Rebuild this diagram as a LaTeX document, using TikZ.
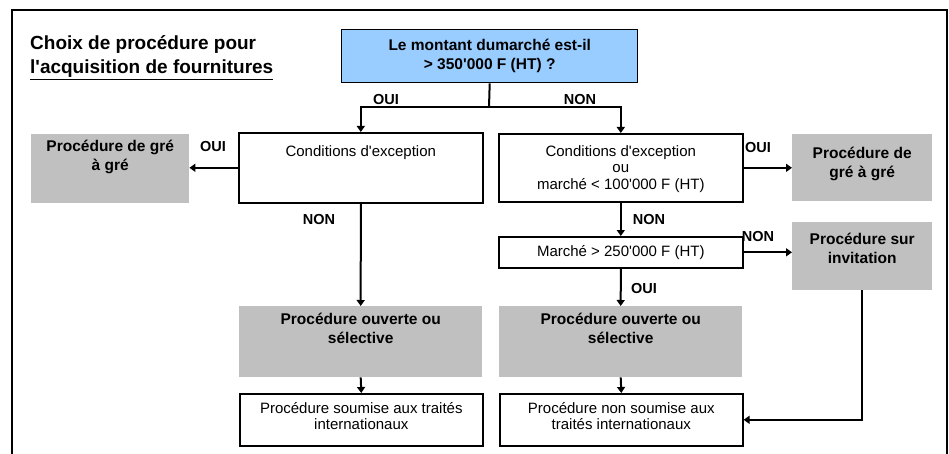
\documentclass[tikz,border=0pt]{standalone}
\usepackage{fontspec}
\setmainfont{Liberation Sans}[Ligatures=TeXOff]
\usetikzlibrary{arrows.meta}
\definecolor{askblue}{HTML}{99CCFF}
\definecolor{procgrey}{HTML}{C0C0C0}

\begin{document}
\begin{tikzpicture}[x=1pt,y=-1pt,
  font=\fontsize{15}{16}\selectfont,
  whitebox/.style={draw,line width=1.6pt,fill=white,anchor=north west,inner sep=0pt},
  greybox/.style={fill=procgrey,anchor=north west,inner sep=0pt},
  bluebox/.style={draw,line width=1.4pt,fill=askblue,anchor=north west,inner sep=0pt},
  txt/.style={align=center,inner sep=0pt,font=\fontsize{15}{16.5}\selectfont},
  bold/.style={align=center,inner sep=0pt,font=\fontsize{15.5}{19}\selectfont\bfseries},
  answer/.style={inner sep=0pt,font=\fontsize{14.5}{14.5}\selectfont\bfseries},
  arr/.style={line width=2pt,-{Triangle[length=6pt,width=8pt]}},
  line/.style={line width=2pt}]
\useasboundingbox (0,0) rectangle (949,454);
\draw[line width=1.6pt] (12,454) -- (12,10) -- (947,10) -- (947,454);

\node[anchor=west,align=left,inner sep=0pt,font=\fontsize{19}{24}\selectfont\bfseries] (title) at (30,58)
  {Choix de procédure pour\\\underline{l'acquisition de fournitures}};

\node[bluebox,minimum width=296pt,minimum height=53pt,
  label={[bold,below=10pt]north:Le montant dumarché est-il\\> 350'000 F (HT) ?}] (ask) at (341,29) {};

\node[whitebox,minimum width=244pt,minimum height=70pt,
  label={[txt,below=13pt]north:Conditions d'exception}] (exc1) at (238,132) {};
\node[greybox,minimum width=158pt,minimum height=69pt,
  label={[bold,below=6pt]north:Procédure de gré\\à gré}] (gre1) at (31,134) {};
\node[whitebox,minimum width=244pt,minimum height=68pt,
  label={[txt,below=12pt]north:Conditions d'exception\\ou\\marché < 100'000 F (HT)}] (exc2) at (498,133) {};
\node[greybox,minimum width=140pt,minimum height=67pt,
  label={[bold,below=13pt]north:Procédure de\\gré à gré}] (gre2) at (792,134) {};
\node[whitebox,minimum width=244pt,minimum height=31pt] (mar) at (498,236) {Marché > 250'000 F (HT)};
\node[greybox,minimum width=140pt,minimum height=68pt,
  label={[bold,below=11pt]north:Procédure sur\\invitation}] (inv) at (792,222) {};
\node[greybox,minimum width=243pt,minimum height=71pt,
  label={[bold,below=7pt]north:Procédure ouverte ou\\sélective}] (ouv1) at (239,306) {};
\node[greybox,minimum width=243pt,minimum height=71pt,
  label={[bold,below=7pt]north:Procédure ouverte ou\\sélective}] (ouv2) at (499,306) {};
\node[whitebox,minimum width=243pt,minimum height=52pt,
  label={[txt,below=9pt]north:Procédure soumise aux traités\\internationaux}] (sou1) at (239,393) {};
\node[whitebox,minimum width=243pt,minimum height=52pt,
  label={[txt,below=9pt]north:Procédure non soumise aux\\traités internationaux}] (sou2) at (499,393) {};

\coordinate (fork) at (489,107);
\draw[line] (ask.south) -- (fork);
\draw[arr] (fork) -| (exc1.north);
\draw[arr] (fork) -| (exc2.north);
\draw[arr] (exc1.west) -- (exc1.west -| gre1.east);
\draw[arr] (exc1.south) -- (ouv1.north);
\draw[arr] (exc2.east) -- (exc2.east -| gre2.west);
\draw[arr] (exc2.south) -- (mar.north);
\draw[arr] (mar.east) -- (mar.east -| inv.west);
\draw[arr] (mar.south) -- (ouv2.north);
\draw[arr] (ouv1.south) -- (sou1.north);
\draw[arr] (ouv2.south) -- (sou2.north);
\draw[arr] (inv.south) |- (sou2.east);

\node[answer] (a1) at (386,100) {OUI};
\node[answer] (a2) at (580,100) {NON};
\node[answer] (a3) at (213,147) {OUI};
\node[answer] (a4) at (319,220) {NON};
\node[answer] (a5) at (758,148) {OUI};
\node[answer] (a6) at (649,220) {NON};
\node[answer] (a7) at (758,237) {NON};
\node[answer] (a8) at (644,289) {OUI};
\end{tikzpicture}
\end{document}
